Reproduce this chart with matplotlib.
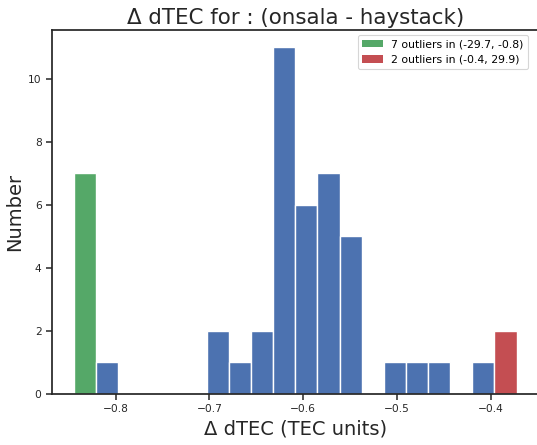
import numpy as np
import matplotlib
matplotlib.use('Agg')
import matplotlib.pyplot as plt

# Histogram of dTEC differences, 20 equal bins
bin_edges = np.linspace(-0.8445, -0.3722, 21)
counts = [7, 1, 0, 0, 0, 0, 2, 1, 2, 11, 6, 7, 5, 0, 1, 1, 1, 0, 1, 2]
# which bins hold the clipped outliers
low_bin = 0
high_bin = 19
low_label = '7 outliers in (-29.7, -0.8)'
high_label = '2 outliers in (-0.4, 29.9)'

blue = '#4C72B0'
green = '#55A868'
red = '#C44E52'
ink = '#262626'

plt.rcParams['font.family'] = 'DejaVu Sans'

fig = plt.figure(figsize=(5.37, 4.45), dpi=100)
ax = fig.add_axes([52 / 537, 51.3 / 445, 486.7 / 537, 363.7 / 445])

colors = []
for i in range(len(counts)):
    if i == low_bin:
        colors.append(green)
    elif i == high_bin:
        colors.append(red)
    else:
        colors.append(blue)

widths = np.diff(bin_edges)
ax.bar(bin_edges[:-1], counts, width=widths, align='edge',
       color=colors, edgecolor='white', linewidth=1.0)

# legend entries for outlier bins
ax.bar([0], [0], color=green, label=low_label)
ax.bar([0], [0], color=red, label=high_label)

ax.set_xlim(-0.8681, -0.3486)
ax.set_ylim(0, 11.55)
ax.set_xticks([-0.8, -0.7, -0.6, -0.5, -0.4])
ax.set_yticks([0, 2, 4, 6, 8, 10])

for s in ax.spines.values():
    s.set_color(ink)
    s.set_linewidth(1.25)

ax.tick_params(axis='both', direction='out', length=4.5, width=1.1,
               color=ink, labelcolor=ink, labelsize=7.7, pad=3)

ax.set_title('Δ dTEC for : (onsala - haystack)', fontsize=15.4, color=ink, pad=4)
ax.set_xlabel('Δ dTEC (TEC units)', fontsize=14, color=ink, labelpad=4)
ax.set_ylabel('Number', fontsize=14, color=ink, labelpad=3)

leg = ax.legend(loc='upper right', fontsize=7.8, frameon=True,
                bbox_to_anchor=(0.985, 0.995), borderaxespad=0.3,
                handlelength=1.9)
leg.get_frame().set_edgecolor('#cccccc')
leg.get_frame().set_linewidth(0.8)

fig.savefig('out.png', dpi=100)
